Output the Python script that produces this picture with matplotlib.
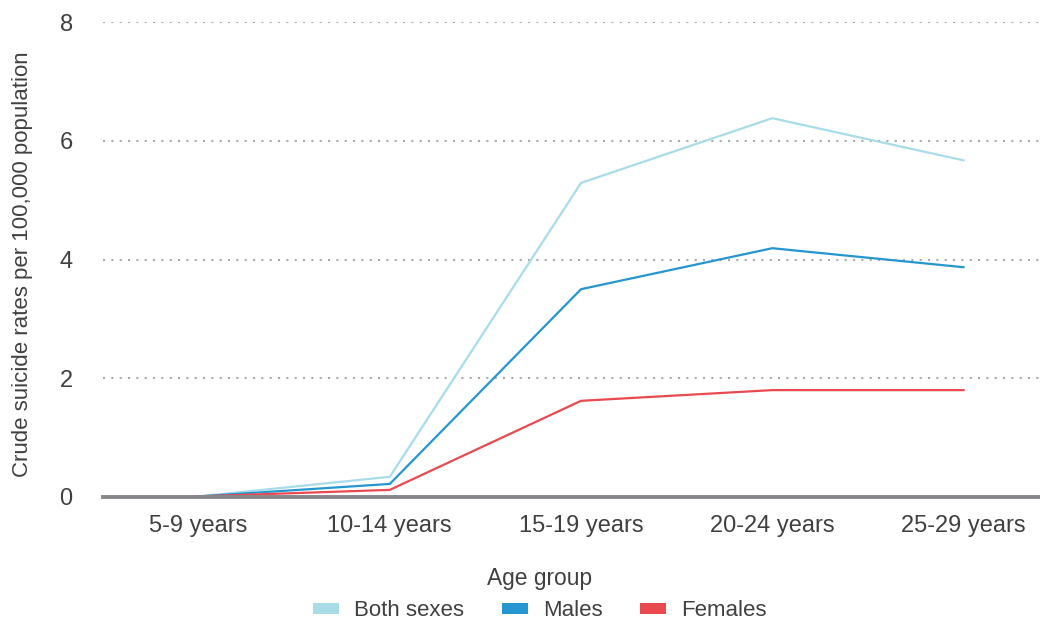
import matplotlib
matplotlib.use('Agg')
import matplotlib.pyplot as plt
from matplotlib.patches import Patch

plt.rcParams['font.family'] = ['Liberation Sans', 'DejaVu Sans']

# data
ageGroups = ['5-9 years', '10-14 years', '15-19 years', '20-24 years', '25-29 years']
bothSexes = [0.01, 0.34, 5.29, 6.38, 5.67]
males = [0.01, 0.22, 3.50, 4.19, 3.87]
females = [0.01, 0.12, 1.62, 1.80, 1.80]
seriesNames = ['Both sexes', 'Males', 'Females']
seriesColors = ['#a8dce9', '#2596cf', '#e84a50']
yTicks = [0, 2, 4, 6, 8]

textColor = '#404040'

fig = plt.figure(figsize=(10.4, 6.2), dpi=100)
ax = fig.add_axes([0.099, 0.1984, 0.901, 0.7661])

x = list(range(len(ageGroups)))
for values, color in zip([bothSexes, males, females], seriesColors):
	ax.plot(x, values, color=color, linewidth=1.6, solid_joinstyle='miter', zorder=3)

ax.set_xlim(-0.5, 4.4)
ax.set_ylim(0, 8)
ax.set_yticks(yTicks)
ax.set_yticklabels([str(v) for v in yTicks])
ax.set_xticks(x)
ax.set_xticklabels(ageGroups)

for v in yTicks[1:]:
	ax.axhline(v, color='#aaaaaa', linewidth=1.5, linestyle=(0, (1, 3)), zorder=1)
ax.axhline(0, color='#87878b', linewidth=2.8, zorder=4, clip_on=False)

for side in ['top', 'right', 'left', 'bottom']:
	ax.spines[side].set_visible(False)
ax.tick_params(axis='both', length=0, labelsize=17, colors=textColor)
ax.tick_params(axis='x', pad=13)
ax.tick_params(axis='y', pad=26.5)
for lbl in ax.get_yticklabels():
	lbl.set_horizontalalignment('center')

ax.set_ylabel('Crude suicide rates per 100,000 population', fontsize=16, color=textColor)
ax.yaxis.set_label_coords(-0.075, 0.49)
fig.text(0.519, 1 - 578 / 620, 'Age group', ha='center', va='center', fontsize=16.4, color=textColor)

handles = [Patch(facecolor=c, edgecolor='none') for c in seriesColors]
leg = fig.legend(handles, seriesNames, loc='center', bbox_to_anchor=(0.519, 1 - 611 / 620),
                 ncol=3, frameon=False, fontsize=16, handlelength=1.17, handleheight=0.36,
                 columnspacing=1.7, handletextpad=0.68, labelcolor=textColor,
                 borderpad=0, borderaxespad=0)

fig.savefig('out.png', dpi=100)
